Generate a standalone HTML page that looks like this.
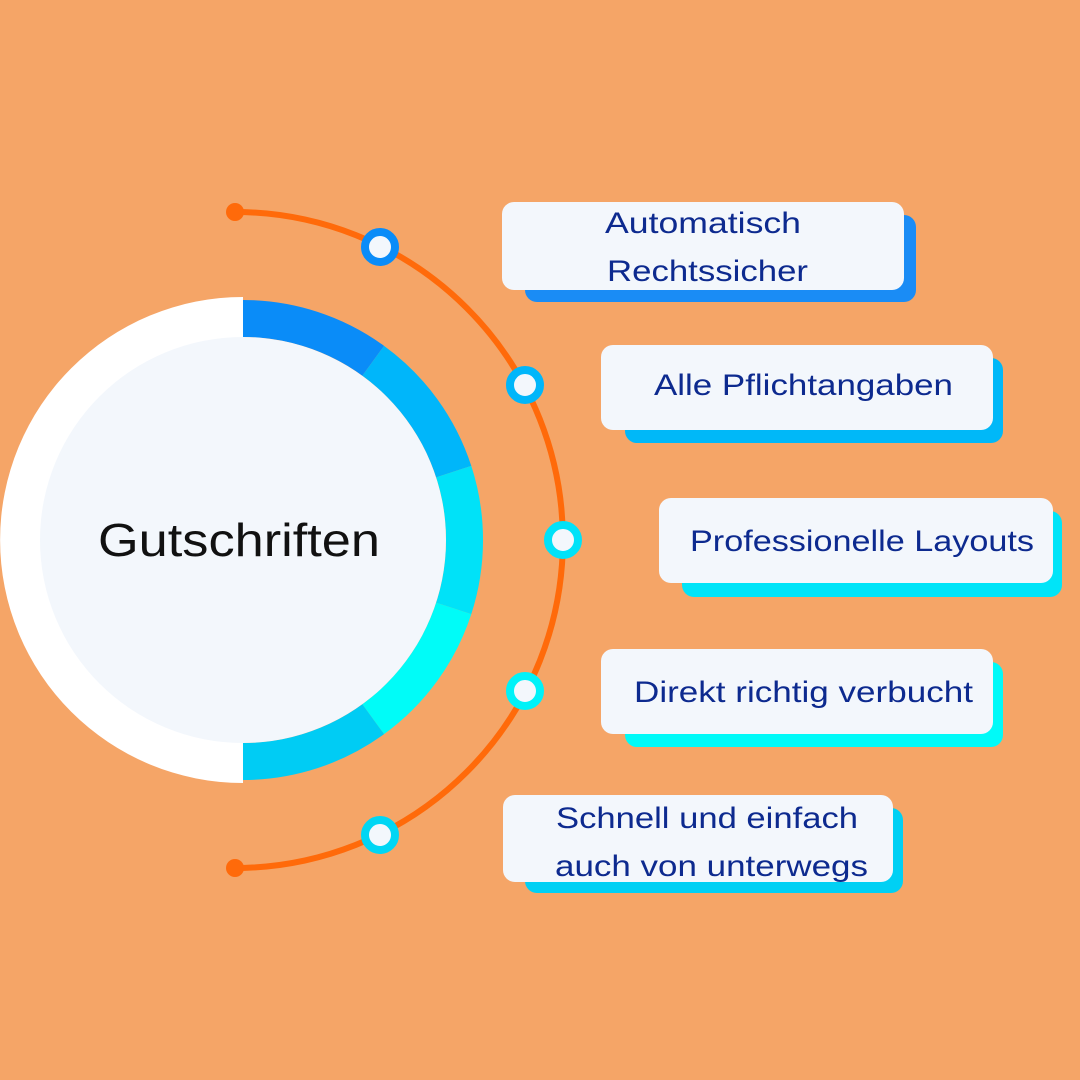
<!DOCTYPE html>
<html><head><meta charset="utf-8"><style>
html,body{margin:0;padding:0;background:#F5A567;}
svg{display:block}
</style></head><body>
<svg width="1080" height="1080" viewBox="0 0 1080 1080" xmlns="http://www.w3.org/2000/svg">
<rect width="1080" height="1080" fill="#F5A567"/>
<path d="M243,297 A243,243 0 0 0 243,783 Z" fill="#FFFFFF"/>
<g fill="none" stroke-width="37">
<path d="M243,318.5 A221.5,221.5 0 0 1 373.2,360.8" stroke="#0A8CF8"/>
<path d="M373.2,360.8 A221.5,221.5 0 0 1 453.7,471.6" stroke="#00B6FA"/>
<path d="M453.7,471.6 A221.5,221.5 0 0 1 453.7,608.4" stroke="#00E2F8"/>
<path d="M453.7,608.4 A221.5,221.5 0 0 1 373.2,719.2" stroke="#00FCF8"/>
<path d="M373.2,719.2 A221.5,221.5 0 0 1 243,761.5" stroke="#00CCF4"/>
</g>
<circle cx="243" cy="540" r="203" fill="#F3F7FC"/>
<text x="98" y="556" textLength="282" lengthAdjust="spacingAndGlyphs" font-family="Liberation Sans, sans-serif" font-size="46" fill="#111">Gutschriften</text>
<path d="M235,212 A328,328 0 0 1 235,868" fill="none" stroke="#FF6A0A" stroke-width="6"/>
<circle cx="235" cy="212" r="9" fill="#FF6A0A"/>
<circle cx="235" cy="868" r="9" fill="#FF6A0A"/>
<g stroke-width="8" fill="#F3F7FC">
<circle cx="380" cy="247" r="15" stroke="#0A8CF8"/>
<circle cx="525" cy="385" r="15" stroke="#00B6FA"/>
<circle cx="563" cy="540" r="15" stroke="#00E2F8"/>
<circle cx="525" cy="691" r="15" stroke="#00F2F8"/>
<circle cx="380" cy="835" r="15" stroke="#00D6F4"/>
</g>
<g>
<rect x="525" y="215" width="391" height="87" rx="12" fill="#1A8CF5"/>
<rect x="502" y="202" width="402" height="88" rx="12" fill="#F3F7FC"/>
<rect x="625" y="358" width="378" height="85" rx="12" fill="#00B8F8"/>
<rect x="601" y="345" width="392" height="85" rx="12" fill="#F3F7FC"/>
<rect x="682" y="511" width="380" height="86" rx="12" fill="#00E4F8"/>
<rect x="659" y="498" width="394" height="85" rx="12" fill="#F3F7FC"/>
<rect x="625" y="662" width="378" height="85" rx="12" fill="#00FAF8"/>
<rect x="601" y="649" width="392" height="85" rx="12" fill="#F3F7FC"/>
<rect x="525" y="808" width="378" height="85" rx="12" fill="#00D0F4"/>
<rect x="503" y="795" width="390" height="87" rx="12" fill="#F3F7FC"/>
</g>
<g font-family="Liberation Sans, sans-serif" font-size="30" fill="#0D2A8F" lengthAdjust="spacingAndGlyphs">
<text x="605" y="233" textLength="196" lengthAdjust="spacingAndGlyphs">Automatisch</text>
<text x="607" y="281" textLength="201" lengthAdjust="spacingAndGlyphs">Rechtssicher</text>
<text x="654" y="395" textLength="299" lengthAdjust="spacingAndGlyphs">Alle Pflichtangaben</text>
<text x="690" y="551" textLength="344" lengthAdjust="spacingAndGlyphs">Professionelle Layouts</text>
<text x="634" y="702" textLength="339" lengthAdjust="spacingAndGlyphs">Direkt richtig verbucht</text>
<text x="556" y="828" textLength="302" lengthAdjust="spacingAndGlyphs">Schnell und einfach</text>
<text x="555" y="876" textLength="313" lengthAdjust="spacingAndGlyphs">auch von unterwegs</text>
</g>
</svg>
</body></html>
